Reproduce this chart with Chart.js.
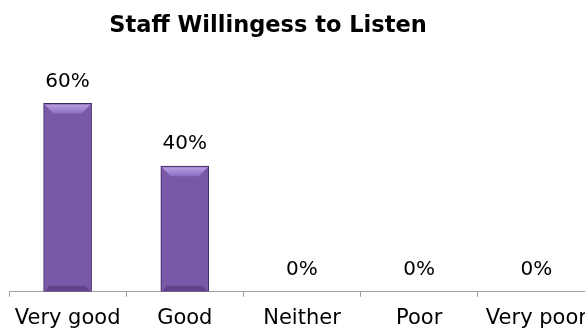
<!DOCTYPE html>
<html>
<head>
<meta charset="utf-8">
<script src="https://cdn.jsdelivr.net/npm/chart.js@4.4.0/dist/chart.umd.min.js"></script>
<style>
  html, body { margin: 0; padding: 0; background: #fff; overflow: hidden; }
  #wrap { width: 596px; height: 332px; }
</style>
</head>
<body>
<div id="wrap"><canvas id="chart" width="596" height="332"></canvas></div>
<script>
const categories = ['Very good', 'Good', 'Neither', 'Poor', 'Very poor'];
const percentages = [60, 40, 0, 0, 0];
const chartTitle = 'Staff Willingess to Listen';

const FONT = '"DejaVu Sans", Verdana, sans-serif';

// bar face: dark edges, lighter middle
function barFill(context) {
    const bar = context.element;
    const ctx = context.chart.ctx;
    if (!bar || bar.x === undefined) return '#7a58a8';
    const half = bar.width / 2;
    const g = ctx.createLinearGradient(bar.x - half, 0, bar.x + half, 0);
    g.addColorStop(0, '#4f3478');
    g.addColorStop(0.12, '#6c4d9c');
    g.addColorStop(0.5, '#7d5cae');
    g.addColorStop(0.88, '#6c4d9c');
    g.addColorStop(1, '#4f3478');
    return g;
}

// bevelled top and shaded foot on each bar
const bevelPlugin = {
    id: 'bevel',
    afterDatasetsDraw(chart) {
        const ctx = chart.ctx;
        chart.getDatasetMeta(0).data.forEach(function(bar) {
            const h = bar.base - bar.y;
            if (h < 2) return;
            const l = bar.x - bar.width / 2, r = bar.x + bar.width / 2;
            const b = Math.min(10, h / 3);
            ctx.save();
            const g = ctx.createLinearGradient(0, bar.y, 0, bar.y + b);
            g.addColorStop(0, '#bba4e4');
            g.addColorStop(1, '#8e6fc2');
            ctx.fillStyle = g;
            ctx.beginPath();
            ctx.moveTo(l + 1, bar.y + 1);
            ctx.lineTo(r - 1, bar.y + 1);
            ctx.lineTo(r - b, bar.y + b);
            ctx.lineTo(l + b, bar.y + b);
            ctx.closePath();
            ctx.fill();
            ctx.fillStyle = 'rgba(50,30,80,0.35)';
            ctx.beginPath();
            ctx.moveTo(l + 1, bar.base);
            ctx.lineTo(r - 1, bar.base);
            ctx.lineTo(r - 6, bar.base - 6);
            ctx.lineTo(l + 6, bar.base - 6);
            ctx.closePath();
            ctx.fill();
            ctx.restore();
        });
    }
};

// percentage text above each bar
const valueLabels = {
    id: 'valueLabels',
    afterDatasetsDraw(chart) {
        const ctx = chart.ctx;
        ctx.save();
        ctx.font = '20px ' + FONT;
        ctx.fillStyle = '#000';
        ctx.textAlign = 'center';
        ctx.textBaseline = 'middle';
        chart.getDatasetMeta(0).data.forEach(function(bar, i) {
            ctx.fillText(percentages[i] + '%', bar.x, bar.y - 22);
        });
        ctx.restore();
    }
};

// heading, set a little left of the canvas centre
const headingPlugin = {
    id: 'heading',
    afterDraw(chart) {
        const ctx = chart.ctx;
        ctx.save();
        ctx.font = 'bold 22.5px ' + FONT;
        ctx.fillStyle = '#000';
        ctx.textAlign = 'center';
        ctx.textBaseline = 'middle';
        ctx.fillText(chartTitle, 268, 26);
        ctx.restore();
    }
};

new Chart(document.getElementById('chart'), {
    type: 'bar',
    data: {
        labels: categories,
        datasets: [{
            data: percentages,
            backgroundColor: barFill,
            borderColor: '#3e2863',
            borderWidth: 1,
            barThickness: 48
        }]
    },
    options: {
        responsive: false,
        animation: false,
        layout: { padding: { left: 9, right: 1, top: 72, bottom: -8 } },
        plugins: {
            legend: { display: false },
            tooltip: { enabled: false },
            title: { display: false }
        },
        scales: {
            x: {
                grid: {
                    offset: true,
                    drawOnChartArea: false,
                    tickLength: 5,
                    color: '#a0a0a0'
                },
                border: { display: true, color: '#a0a0a0' },
                ticks: {
                    color: '#000',
                    padding: 9,
                    font: { family: FONT, size: 21, lineHeight: 1.2 }
                }
            },
            y: {
                display: false,
                min: 0,
                max: 70
            }
        }
    },
    plugins: [bevelPlugin, valueLabels, headingPlugin]
});
</script>
</body>
</html>
